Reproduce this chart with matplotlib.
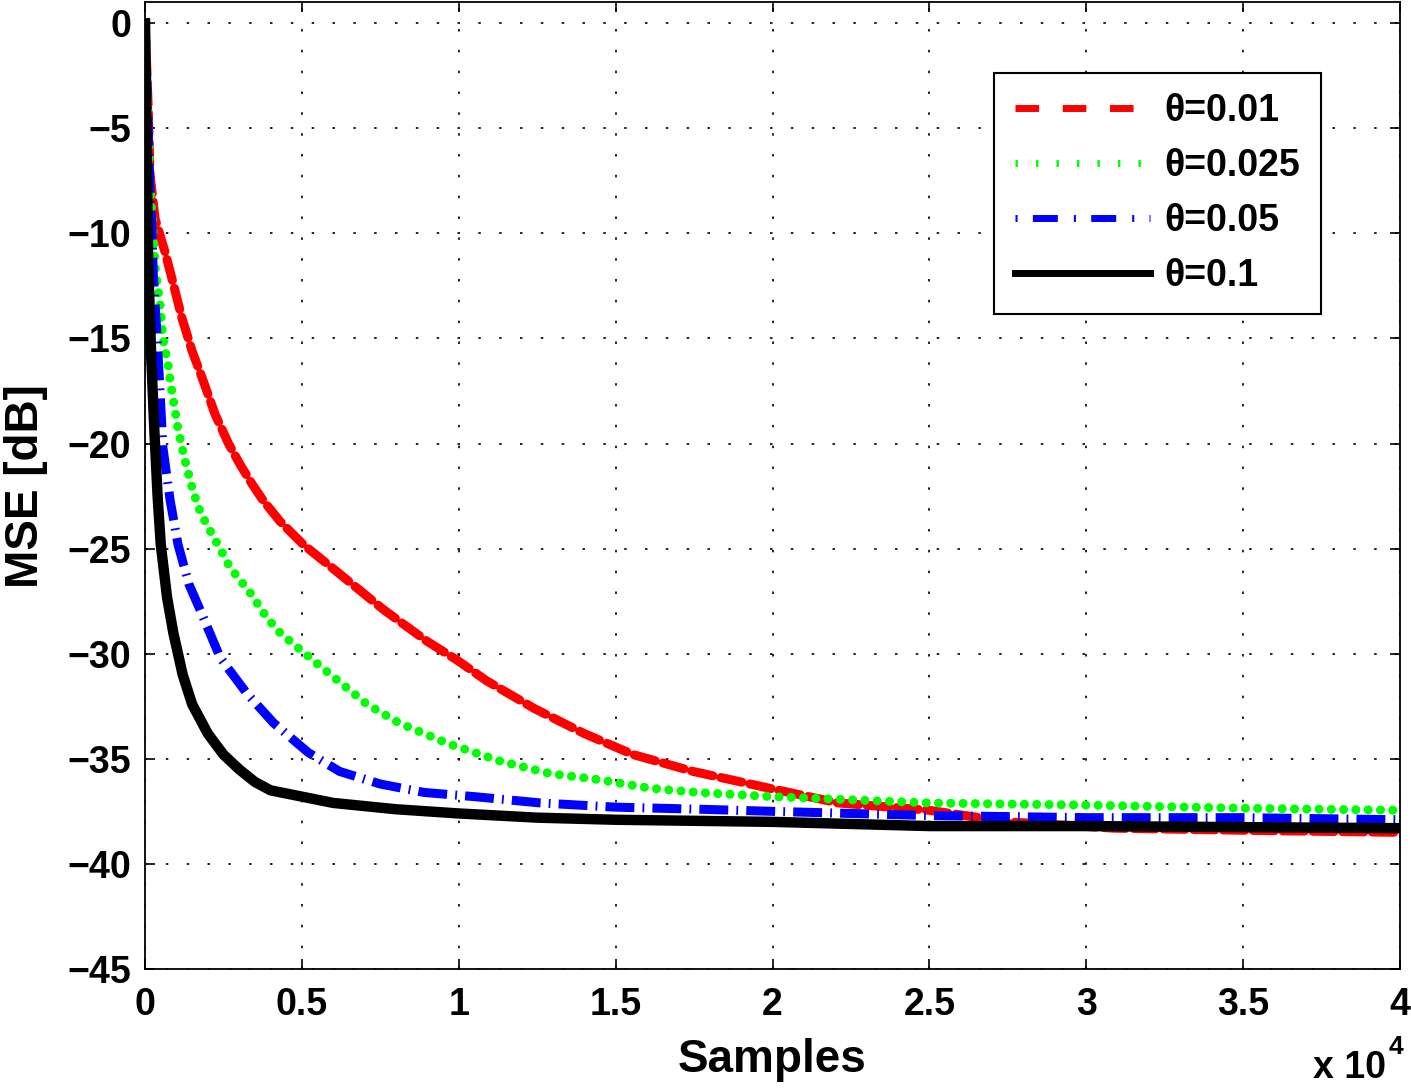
import matplotlib
matplotlib.use('Agg')
import matplotlib.pyplot as plt
from matplotlib.lines import Line2D

# samples in units of 1e4, MSE in dB
x_red = [0, 0.004, 0.01, 0.016, 0.032, 0.064, 0.09, 0.117, 0.15, 0.185, 0.223, 0.266, 0.303,
         0.34, 0.376, 0.43, 0.504, 0.62, 0.76, 0.898, 0.994, 1.09, 1.24, 1.40, 1.556, 1.747,
         1.99, 2.21, 2.5, 2.75, 3.09, 3.5, 4.0]
mse_red = [0, -1.5, -4, -7.2, -9.3, -10.9, -12.4, -14.0, -15.6, -17.0, -18.6, -20.0, -21.0,
           -21.9, -22.7, -23.7, -24.8, -26.2, -27.9, -29.4, -30.3, -31.3, -32.6, -33.8, -34.8, -35.6,
           -36.4, -37.1, -37.45, -38.0, -38.3, -38.4, -38.5]

x_green = [0, 0.016, 0.026, 0.032, 0.048, 0.057, 0.073, 0.08, 0.105, 0.127, 0.15, 0.169, 0.191,
           0.213, 0.239, 0.271, 0.335, 0.389, 0.43, 0.494, 0.6, 0.707, 0.81, 0.97, 1.13, 1.29,
           1.45, 1.61, 1.76, 2.0, 2.5, 3.0, 3.5, 4.0]
mse_green = [0, -7.7, -10, -11.6, -13.4, -15.0, -16.2, -17.0, -19.3, -20.8, -22.1, -23.0, -23.7,
             -24.3, -25.0, -25.9, -27.1, -28.3, -29.0, -29.8, -31.1, -32.4, -33.3, -34.3, -35.1, -35.7,
             -36.0, -36.4, -36.6, -36.8, -37.1, -37.2, -37.35, -37.45]

x_blue = [0, 0.01, 0.016, 0.022, 0.026, 0.038, 0.048, 0.057, 0.08, 0.105, 0.14, 0.175, 0.24,
          0.325, 0.41, 0.52, 0.62, 0.75, 0.89, 1.05, 1.26, 1.5, 1.77, 2.0, 2.5, 3.0, 3.5, 4.0]
mse_blue = [0, -5, -8.1, -9.8, -11.9, -14.8, -17.6, -20.2, -22.7, -24.8, -26.7, -27.9, -30.2,
            -31.9, -33.3, -34.7, -35.6, -36.2, -36.6, -36.8, -37.1, -37.3, -37.4, -37.5, -37.7, -37.8,
            -37.8, -37.9]

x_black = [0, 0.005, 0.01, 0.02, 0.03, 0.04, 0.05, 0.07, 0.09, 0.12, 0.15, 0.2, 0.25, 0.3,
           0.35, 0.4, 0.5, 0.6, 0.8, 1.0, 1.25, 1.5, 2.0, 2.5, 3.0, 3.5, 4.0]
mse_black = [0, -6, -11.5, -16, -19.5, -22.5, -24.8, -27.3, -29, -31, -32.4, -33.8, -34.8, -35.5,
             -36.1, -36.5, -36.8, -37.1, -37.4, -37.6, -37.8, -37.9, -38.0, -38.2, -38.2, -38.25,
             -38.3]

labels = ['θ=0.01', 'θ=0.025', 'θ=0.05', 'θ=0.1']
xticks = [0, 0.5, 1, 1.5, 2, 2.5, 3, 3.5, 4]
xticklabels = ['0', '0.5', '1', '1.5', '2', '2.5', '3', '3.5', '4']
yticks = [0, -5, -10, -15, -20, -25, -30, -35, -40, -45]

plt.rcParams['font.family'] = ['Liberation Sans', 'DejaVu Sans']
plt.rcParams['font.weight'] = 'bold'

fig = plt.figure(figsize=(14.11, 10.89), dpi=100)
ax = fig.add_axes([0.1028, 0.1102, 0.8894, 0.8878])

# noisy curves in the original make the patterns look denser along the line
ax.plot(x_red, mse_red, color=(1, 0, 0), lw=6.5, dashes=(2.4, 0.9), dash_capstyle='round')
ax.plot(x_green, mse_green, color=(0, 1, 0), lw=6.5, dashes=(0.01, 1.35), dash_capstyle='round')
ax.plot(x_blue, mse_blue, color=(0, 0, 1), lw=6.5, dashes=(3.2, 0.9, 0.2, 0.9))
ax.plot(x_black, mse_black, color='k', lw=7.5)

ax.set_xlim(0, 4)
ax.set_ylim(-45, 1)
ax.set_xticks(xticks)
ax.set_xticklabels(xticklabels)
ax.set_yticks(yticks)

ax.grid(True, color='k', lw=1.2, linestyle=(0, (1.5, 11)))
ax.tick_params(direction='in', top=True, right=True, length=7, width=1.2,
               labelsize=27, pad=10)
ax.tick_params(axis='x', pad=13)
for s in ax.spines.values():
    s.set_linewidth(1.3)

ax.set_xlabel('Samples', fontsize=33, fontweight='bold', labelpad=11)
ax.set_ylabel('MSE [dB]', fontsize=33, fontweight='bold', labelpad=14)

fig.text(0.982, 0.003, 'x 10', fontsize=27, fontweight='bold', ha='right', va='bottom')
fig.text(0.984, 0.028, '4', fontsize=19, fontweight='bold', ha='left', va='bottom')

handles = [
    Line2D([], [], color=(1, 0, 0), lw=5, dashes=(3.4, 3.4)),
    Line2D([], [], color=(0, 1, 0), lw=5, dashes=(0.35, 2.6)),
    Line2D([], [], color=(0, 0, 1), lw=5, dashes=(0.3, 2.2, 3.6, 2.3)),
    Line2D([], [], color='k', lw=5),
]
leg = ax.legend(handles, labels, loc='upper right', bbox_to_anchor=(0.937, 0.927),
                borderaxespad=0, prop={'size': 27, 'weight': 'bold'}, fancybox=False,
                edgecolor='k', framealpha=1, handlelength=3.6, handletextpad=0.4,
                labelspacing=0.5, borderpad=0.55)
leg.get_frame().set_linewidth(1.5)

fig.savefig('out.png', dpi=100)
